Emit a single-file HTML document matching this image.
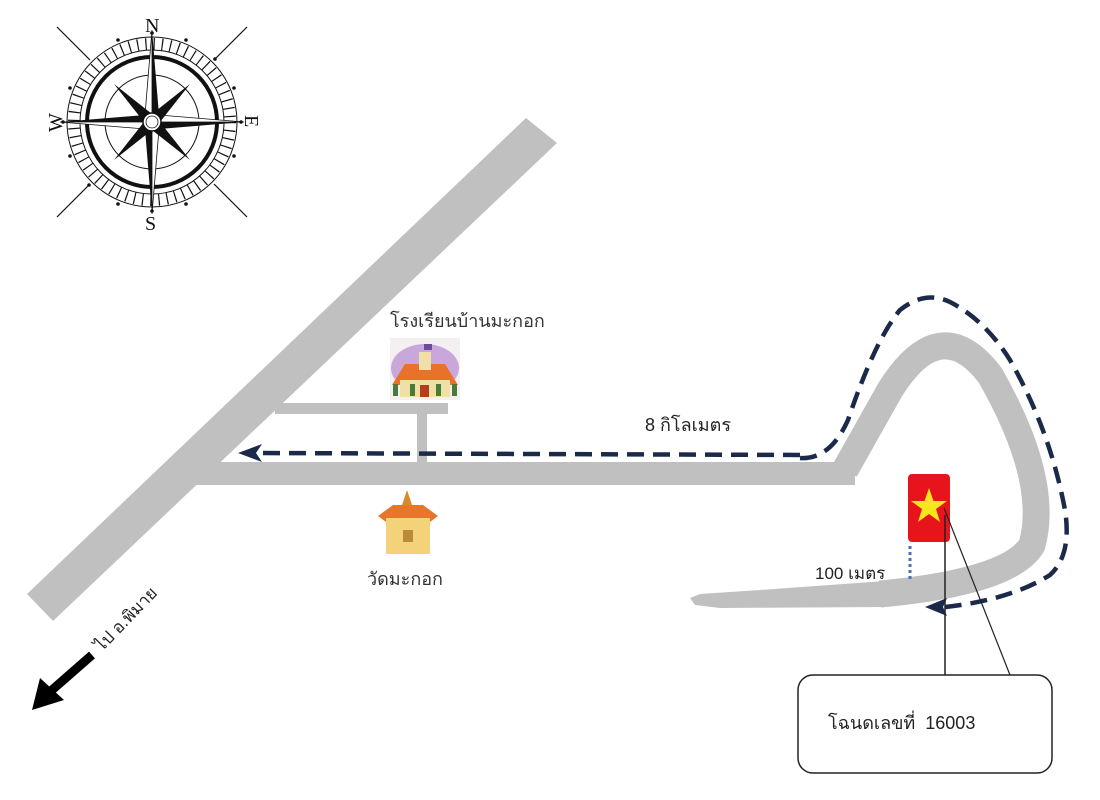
<!DOCTYPE html>
<html><head><meta charset="utf-8"><style>
html,body{margin:0;padding:0;background:#fff;}
svg{display:block;}
text{font-family:"Liberation Sans","Noto Sans CJK SC",sans-serif;}
</style></head><body>
<svg width="1100" height="800" viewBox="0 0 1100 800" xmlns="http://www.w3.org/2000/svg">
<!-- roads -->
<g fill="#c0c0c0" stroke="none">
<polygon points="27,594 526,118 557,143 53,621"/>
<polygon points="200,462 855,462 855,485 190,485"/>
<rect x="275" y="403" width="173" height="11"/>
<rect x="417" y="413" width="10" height="50"/>
</g>
<path d="M845,470 L890,390 Q940,310 990,375 Q1050,480 1032,545 Q1010,582 880,594" fill="none" stroke="#c0c0c0" stroke-width="27" stroke-linejoin="round"/>
<polygon points="885,581 885,607 720,608 695,605 690,598 700,594 760,590" fill="#c0c0c0"/>
<!-- dashed route -->
<g fill="none" stroke="#1c2a4a" stroke-width="4.5" stroke-dasharray="17,9">
<path d="M800,455 L258,453"/>
<path d="M800,458 Q830,460 848,420 Q875,340 900,310 Q925,290 950,302 Q985,320 1010,360 Q1050,430 1065,510 Q1072,555 1050,575 Q1010,600 945,607"/>
</g>
<polygon points="238,453 262,444 256,453 262,462" fill="#1c2a4a"/>
<polygon points="925,607 947,598 943,607 947,616" fill="#1c2a4a"/>
<!-- star box -->
<rect x="908" y="474" width="42" height="68" rx="4" fill="#e8141c"/>
<polygon points="929,488 933.5,501 947,501 936,509 940,522 929,514 918,522 922,509 911,501 924.5,501" fill="#f7e61d"/>
<line x1="910" y1="546" x2="910" y2="580" stroke="#4a6fb5" stroke-width="3" stroke-dasharray="3,3"/>
<text x="815" y="579" font-size="17" fill="#222">100 เมตร</text>
<!-- callout -->
<rect x="798" y="675" width="254" height="98" rx="15" fill="#fff" stroke="#222" stroke-width="1.5"/>
<polyline points="945,675 945,515" fill="none" stroke="#222" stroke-width="1.5"/>
<line x1="944" y1="508" x2="1010" y2="675" stroke="#222" stroke-width="1.2"/>
<text x="828" y="729" font-size="18" fill="#222">โฉนดเลขที่&#160;&#160;16003</text>
<!-- labels -->
<text x="645" y="431" font-size="18" fill="#222">8 กิโลเมตร</text>
<text x="390" y="327" font-size="18" fill="#333">โรงเรียนบ้านมะกอก</text>
<text x="367" y="585" font-size="18" fill="#333">วัดมะกอก</text>
<text x="0" y="0" font-size="17" fill="#222" transform="translate(102,652) rotate(-46)">ไป อ.พิมาย</text>
<!-- black arrow -->
<line x1="92" y1="655" x2="52" y2="690" stroke="#000" stroke-width="9"/>
<polygon points="32,710 40,678 64,700" fill="#000"/>
<!-- school icon -->
<g>
<rect x="390" y="338" width="70" height="62" fill="#f4f0f2"/>
<ellipse cx="425" cy="368" rx="34" ry="24" fill="#c9a6dc"/>
<polygon points="392,385 405,364 445,364 458,385" fill="#e8722a"/>
<rect x="400" y="380" width="50" height="17" fill="#f1dfa8"/>
<rect x="419" y="352" width="12" height="18" fill="#f1dfa8"/>
<rect x="424" y="344" width="8" height="6" fill="#6a4c9c"/>
<rect x="420" y="385" width="9" height="12" fill="#b04020"/>
<g fill="#4a7a3a"><rect x="393" y="384" width="5" height="12"/><rect x="410" y="384" width="5" height="12"/><rect x="436" y="384" width="5" height="12"/><rect x="452" y="384" width="5" height="12"/></g>
</g>
<!-- temple icon -->
<g>
<polygon points="378,516 393,505 423,505 438,516 430,522 386,522" fill="#e6762a"/>
<polygon points="407,490 412,505 402,505" fill="#d88a2a"/>
<rect x="386" y="518" width="44" height="36" fill="#f4d27a"/>
<rect x="403" y="530" width="10" height="12" fill="#b88a3a"/>
</g>
<!-- compass -->
<g transform="translate(152,122)" fill="none" stroke="#111">
<g stroke-width="1.2">
<line x1="-95" y1="-95" x2="-62" y2="-62"/><line x1="95" y1="-95" x2="62" y2="-62"/>
<line x1="-95" y1="95" x2="-62" y2="62"/><line x1="95" y1="95" x2="62" y2="62"/>
</g>
<circle r="85" stroke-width="1"/>
<circle r="72" stroke-width="1"/>
<circle r="65" stroke-width="4"/>
<circle r="47" stroke-width="1"/>
<circle r="78" stroke-width="12" stroke-dasharray="1.2,7" />
<g fill="#111" stroke="none">
<circle cx="0" cy="-89" r="1.8"/><circle cx="0" cy="89" r="1.8"/><circle cx="-89" cy="0" r="1.8"/><circle cx="89" cy="0" r="1.8"/>
<circle cx="34" cy="-82" r="1.8"/><circle cx="-34" cy="-82" r="1.8"/><circle cx="34" cy="82" r="1.8"/><circle cx="-34" cy="82" r="1.8"/>
<circle cx="82" cy="34" r="1.8"/><circle cx="-82" cy="34" r="1.8"/><circle cx="82" cy="-34" r="1.8"/><circle cx="-82" cy="-34" r="1.8"/>
<circle cx="63" cy="-63" r="1.8"/><circle cx="-63" cy="63" r="1.8"/>
<polygon points="0,-92 7,-7 0,0"/><polygon points="0,-92 -7,-7 0,0" fill="#fff" stroke="#111" stroke-width="0.8"/>
<polygon points="0,92 -7,7 0,0"/><polygon points="0,92 7,7 0,0" fill="#fff" stroke="#111" stroke-width="0.8"/>
<polygon points="92,0 7,7 0,0"/><polygon points="92,0 7,-7 0,0" fill="#fff" stroke="#111" stroke-width="0.8"/>
<polygon points="-92,0 -7,-7 0,0"/><polygon points="-92,0 -7,7 0,0" fill="#fff" stroke="#111" stroke-width="0.8"/>
<polygon points="38,-38 0,-8 8,0"/><polygon points="-38,-38 0,-8 -8,0"/>
<polygon points="38,38 0,8 8,0"/><polygon points="-38,38 0,8 -8,0"/>
</g>
<circle r="9" fill="#fff" stroke-width="1.5"/>
<circle r="6" stroke-width="0.8"/>
</g>
<g font-size="20" fill="#111">
<text x="145" y="32" style="font-family:'Liberation Serif',serif">N</text>
<text x="145" y="230" style="font-family:'Liberation Serif',serif">S</text>
<text x="245" y="129" style="font-family:'Liberation Serif',serif" transform="rotate(90,252,122)">E</text>
<text x="45" y="129" style="font-family:'Liberation Serif',serif" transform="rotate(-90,55,122)">W</text>
</g>
</svg>
</body></html>
